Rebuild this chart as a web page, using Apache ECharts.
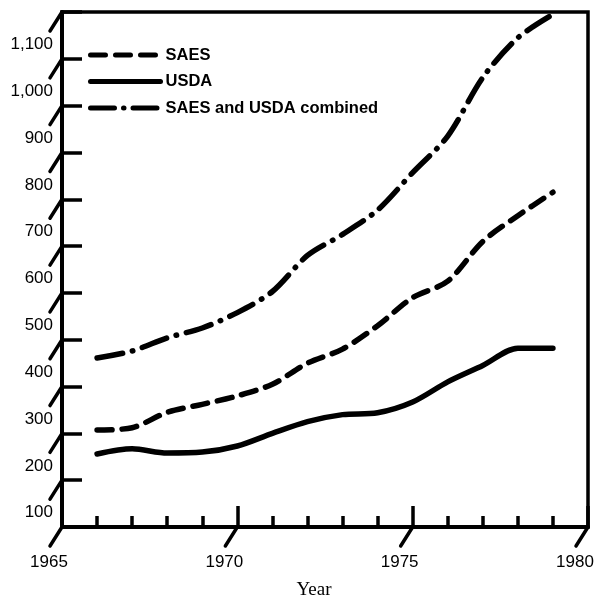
<!DOCTYPE html>
<html>
<head>
<meta charset="utf-8">
<script src="https://cdn.jsdelivr.net/npm/echarts@6/dist/echarts.min.js"></script>
<style>
html,body{margin:0;padding:0;background:#fff;}
#chart{width:597px;height:598px;}
</style>
</head>
<body>
<div id="chart"></div>
<script>
const years = [1966, 1967, 1968, 1969, 1970, 1971, 1972, 1973, 1974, 1975, 1976, 1977, 1978, 1979];
const saes = [207, 212, 245, 262, 280, 305, 350, 380, 430, 490, 525, 610, 665, 715];
const usda = [156, 167, 158, 160, 173, 200, 225, 240, 244, 267, 310, 345, 382, 382];
const combined = [361, 376, 404, 425, 458, 503, 580, 625, 677, 757, 835, 960, 1045, 1095];
const yTickValues = [100, 200, 300, 400, 500, 600, 700, 800, 900, 1000, 1100];
const xTickValues = [1965, 1970, 1975, 1980];
const seriesNames = ['SAES', 'USDA', 'SAES and USDA combined'];

const chart = echarts.init(document.getElementById('chart'), null, {renderer: 'canvas'});
const black = '#000';
const axisFont = 'Liberation Sans, Arial, sans-serif';
const dashSAES = [15, 10];
const dashCombined = [26, 10, 0.5, 10];

function pairs(vals) { return years.map((y, i) => [y, vals[i]]); }

function slantRenderer(params, api) {
  const p = api.coord([api.value(0), api.value(1)]);
  return {
    type: 'line',
    shape: {x1: p[0], y1: p[1], x2: p[0] - 12, y2: p[1] + 19},
    style: {stroke: black, lineWidth: 3.5, lineCap: 'round'},
    silent: true
  };
}

const lineCommon = {
  type: 'line', symbol: 'none', showSymbol: false, smooth: 0.3,
  z: 5
};

const hiddenSymbol = {color: 'transparent', borderWidth: 0, opacity: 0};

const option = {
  animation: false,
  backgroundColor: '#fff',
  grid: {left: 62, right: 9, top: 12, bottom: 71, outerBoundsMode: 'none', containLabel: false,
    show: true, borderColor: black, borderWidth: 3.5, backgroundColor: 'transparent'},
  legend: {
    data: [
      {name: seriesNames[0], itemStyle: hiddenSymbol, lineStyle: {color: black, width: 5, type: dashSAES, cap: 'round'}},
      {name: seriesNames[1], itemStyle: hiddenSymbol, lineStyle: {color: black, width: 5, type: 'solid', cap: 'round'}},
      {name: seriesNames[2], itemStyle: hiddenSymbol, lineStyle: {color: black, width: 5, type: [24, 9, 0.5, 9], cap: 'round'}}
    ],
    orient: 'vertical',
    left: 83, top: 41,
    itemWidth: 70, itemHeight: 14, itemGap: 8.5,
    textStyle: {color: black, fontFamily: axisFont, fontWeight: 'bold', fontSize: 16.5, lineHeight: 18},
    inactiveColor: black
  },
  xAxis: {
    type: 'value', min: 1965, max: 1980, interval: 5,
    name: 'Year', nameLocation: 'middle', nameGap: 54,
    nameTextStyle: {color: black, fontFamily: 'Liberation Serif, Times New Roman, serif', fontSize: 19, padding: [0, 22, 0, 0]},
    axisLine: {show: true, lineStyle: {color: black, width: 4}},
    axisTick: {show: true, inside: true, length: 21, lineStyle: {color: black, width: 3.5}},
    minorTick: {show: true, splitNumber: 5, length: 11, lineStyle: {color: black, width: 3.5}},
    splitLine: {show: false},
    axisLabel: {
      color: black, fontFamily: axisFont, fontSize: 17, margin: 27,
      padding: [0, 26, 0, 0],
      formatter: v => String(v)
    }
  },
  yAxis: {
    type: 'value', min: 0, max: 1100, interval: 100,
    axisLine: {show: true, lineStyle: {color: black, width: 4}},
    axisTick: {show: true, inside: true, length: 20, lineStyle: {color: black, width: 3.5}},
    splitLine: {show: false},
    axisLabel: {
      color: black, fontFamily: axisFont, fontSize: 17, margin: 9,
      verticalAlign: 'top', padding: [24, 0, 0, 0],
      formatter: v => v === 0 ? '' : (v >= 1000 ? Math.floor(v / 1000) + ',' + String(v % 1000).padStart(3, '0') : String(v))
    }
  },
  series: [
    Object.assign({}, lineCommon, {
      name: 'SAES', data: pairs(saes),
      lineStyle: {color: black, width: 5.5, type: dashSAES, cap: 'round'},
      itemStyle: {color: black}
    }),
    Object.assign({}, lineCommon, {
      name: 'USDA', data: pairs(usda),
      lineStyle: {color: black, width: 5.5, type: 'solid', cap: 'round'},
      itemStyle: {color: black}
    }),
    Object.assign({}, lineCommon, {
      name: 'SAES and USDA combined', data: pairs(combined),
      lineStyle: {color: black, width: 5.5, type: dashCombined, cap: 'round'},
      itemStyle: {color: black}
    }),
    {
      type: 'custom', name: 'ySlants', clip: false, silent: true,
      data: yTickValues.map(v => [1965, v]),
      renderItem: slantRenderer, z: 6
    },
    {
      type: 'custom', name: 'xSlants', clip: false, silent: true,
      data: xTickValues.map(v => [v, 0]),
      renderItem: slantRenderer, z: 6
    }
  ]
};
chart.setOption(option);
</script>
</body>
</html>
